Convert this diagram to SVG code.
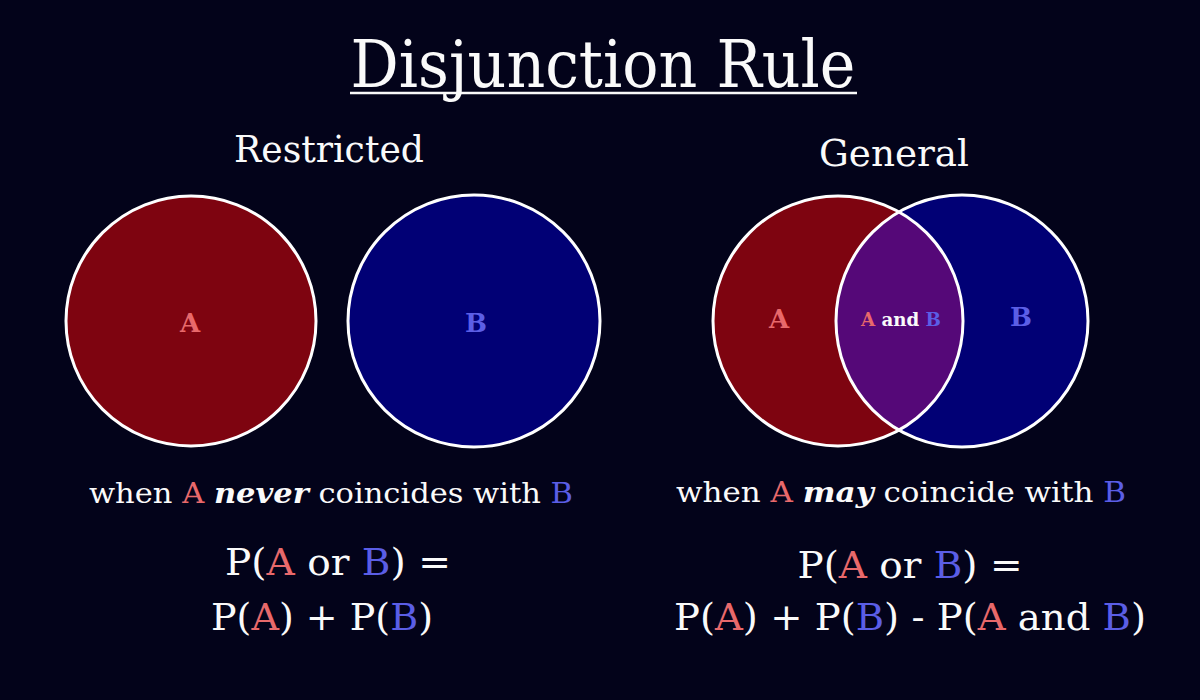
<svg xmlns="http://www.w3.org/2000/svg" width="1200" height="700" viewBox="0 0 1200 700">
<style>
text{font-family:"DejaVu Serif","Liberation Serif",serif;fill:#fafafa;text-anchor:middle}
.a{fill:#e8696b}.b{fill:#5b5ee6}
.c{stroke:#ffffff;stroke-width:3}
.lbl{font-weight:bold;font-size:26px}
.sub{font-size:27px}
.eq{font-size:37px}
.hd{font-size:37px}
</style>
<rect width="1200" height="700" fill="#03031a"/>
<g id="title">
<text x="603" y="87" font-size="66" textLength="505" lengthAdjust="spacingAndGlyphs">Disjunction Rule</text>
<line x1="350" y1="93" x2="857" y2="93" stroke="#fafafa" stroke-width="2.5"/>
</g>
<g id="restricted">
<text class="hd" x="329" y="162" textLength="190" lengthAdjust="spacingAndGlyphs">Restricted</text>
<circle id="rA" class="c" cx="191" cy="321" r="125" fill="#7e0410"/>
<circle id="rB" class="c" cx="474" cy="321" r="126" fill="#010075"/>
<text class="lbl a" x="190" y="332">A</text>
<text class="lbl b" x="476" y="332">B</text>
<text class="sub" x="331" y="503" textLength="484" lengthAdjust="spacingAndGlyphs">when <tspan class="a">A</tspan> <tspan font-weight="bold" font-style="italic">never</tspan> coincides with <tspan class="b">B</tspan></text>
<text class="eq" x="338" y="575" textLength="226" lengthAdjust="spacingAndGlyphs">P(<tspan class="a">A</tspan> or <tspan class="b">B</tspan>) =</text>
<text class="eq" x="322" y="630" textLength="222" lengthAdjust="spacingAndGlyphs">P(<tspan class="a">A</tspan>) + P(<tspan class="b">B</tspan>)</text>
</g>
<g id="general">
<text class="hd" x="894" y="166" textLength="150" lengthAdjust="spacingAndGlyphs">General</text>
<defs><clipPath id="clipA"><circle cx="838" cy="321" r="125"/></clipPath></defs>
<circle id="gA" cx="838" cy="321" r="125" fill="#7e0410"/>
<circle id="gB" cx="962" cy="321" r="126" fill="#010075"/>
<circle cx="962" cy="321" r="126" fill="#550878" clip-path="url(#clipA)"/>
<circle class="c" cx="838" cy="321" r="125" fill="none"/>
<circle class="c" cx="962" cy="321" r="126" fill="none"/>
<text class="lbl a" x="779" y="328">A</text>
<text class="lbl b" x="1021" y="326">B</text>
<text x="901" y="326" font-size="18" font-weight="bold" textLength="80" lengthAdjust="spacingAndGlyphs"><tspan class="a">A</tspan> and <tspan class="b">B</tspan></text>
<text class="sub" x="901" y="502" textLength="450" lengthAdjust="spacingAndGlyphs">when <tspan class="a">A</tspan> <tspan font-weight="bold" font-style="italic">may</tspan> coincide with <tspan class="b">B</tspan></text>
<text class="eq" x="910" y="578" textLength="225" lengthAdjust="spacingAndGlyphs">P(<tspan class="a">A</tspan> or <tspan class="b">B</tspan>) =</text>
<text class="eq" x="910" y="630" textLength="472" lengthAdjust="spacingAndGlyphs">P(<tspan class="a">A</tspan>) + P(<tspan class="b">B</tspan>) - P(<tspan class="a">A</tspan> and <tspan class="b">B</tspan>)</text>
</g>
</svg>
